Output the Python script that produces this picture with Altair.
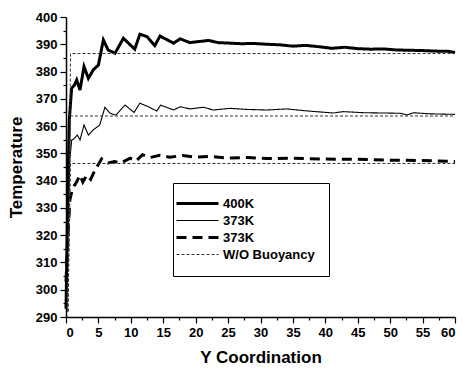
import altair as alt
import pandas as pd

# --- data ---
x400 = [0, 0.25, 0.5, 0.87, 1.3, 1.65, 2.16, 2.78, 3.45, 4.2, 5.0, 5.76, 6.5, 7.56, 8.85,
        10.6, 11.4, 12.5, 13.7, 14.5, 16.6, 17.6, 19.1, 20.5, 22, 23.5, 25.5, 27, 29, 31,
        33, 35, 37, 39, 41, 43, 45, 47, 49, 51, 53, 55, 57, 59, 60]
t400 = [293, 330, 362, 373.9, 375, 376.9, 373.2, 381.8, 377.5, 380.6, 382.4, 391.6, 387.9,
        386.7, 392.2, 388.2, 393.7, 392.8, 389.5, 393, 390.4, 392, 390.6, 391, 391.4, 390.6,
        390.4, 390.2, 390.3, 390, 389.8, 389.3, 389.6, 389.1, 388.5, 388.9, 388.4, 388.2,
        388.3, 387.9, 387.8, 387.7, 387.5, 387.4, 387]

x373 = [0, 0.3, 0.6, 0.88, 1.2, 1.75, 2.16, 2.78, 3.45, 4.2, 5.2, 6.0, 6.8, 7.7, 9.1, 10.5,
        11.4, 12.7, 14.0, 14.6, 16.6, 17.6, 19.1, 21.2, 22.7, 25.3, 28, 31, 34.1, 37, 41.2,
        42.8, 46, 49, 51.5, 52.6, 53.6, 56, 58, 60]
t373 = [300, 325, 348, 354.9, 355.3, 356.7, 354.9, 360.4, 356.7, 358.6, 360.4, 366.9, 364.7,
        364, 367.7, 365, 368.4, 367.1, 365.5, 367.7, 365.9, 367.1, 366.3, 366.9, 365.9, 366.5,
        366.1, 365.9, 366.3, 365.6, 364.8, 365.3, 364.9, 364.8, 364.7, 364.1, 364.9, 364.5,
        364.4, 364.3]

xdash = [0, 0.3, 0.6, 1.0, 1.65, 2.16, 2.6, 3.2, 3.8, 4.5, 5.5, 6.5, 7.5, 8.5, 9.9, 10.8,
         11.8, 13, 14.5, 16, 18, 20, 22, 25, 28, 31, 35, 40, 45, 50, 55, 60]
tdash = [303, 320, 333, 337, 339.6, 342, 339.5, 342, 340.5, 344, 348, 346.5, 347, 346.5,
         348.2, 347.2, 349.5, 348.5, 349.3, 348.6, 349.2, 348.6, 348.9, 348.3, 348.5, 348.1,
         348.2, 347.9, 347.8, 347.5, 347.4, 347]

xwo = [0.3, 0.7, 60]
two_400 = [292, 386.6, 386.6]
two_373 = [292, 363.7, 363.7]
two_dash = [292, 346.3, 346.3]

series_names = ["400K", "373K", "373K ", "W/O Buoyancy"]

rows = []
def add(xs, ts, series, line):
    for x, t in zip(xs, ts):
        rows.append({"x": x, "t": t, "series": series, "line": line})

add(x400, t400, series_names[0], "a")
add(x373, t373, series_names[1], "b")
add(xdash, tdash, series_names[2], "c")
add(xwo, two_400, series_names[3], "d1")
add(xwo, two_373, series_names[3], "d2")
add(xwo, two_dash, series_names[3], "d3")
df = pd.DataFrame(rows)

FONT = "Liberation Sans"

leg = alt.Legend(
    title=None, orient="none", legendX=107, legendY=166,
    symbolType="M-3.4,0H5.0", symbolSize=100, strokeColor="black", fillColor="white",
    padding=14, labelFont=FONT, labelFontSize=13, labelFontWeight="bold",
    labelColor="black", labelOffset=23, rowPadding=3, labelLimit=200,
)

chart = alt.Chart(df).mark_line().encode(
    x=alt.X("x:Q", scale=alt.Scale(domain=[0, 60], nice=False),
            title="Y Coordination",
            axis=alt.Axis(values=[i * 2.5 for i in range(25)],
                          labelExpr="datum.value % 5 == 0 ? datum.label : ''",
                          tickSize={"condition": {"test": "datum.value % 5 != 0", "value": 3}, "value": 6},
                          labelOverlap=False)),
    y=alt.Y("t:Q", scale=alt.Scale(domain=[290, 400], nice=False),
            title="Temperature",
            axis=alt.Axis(values=[290 + i * 5 for i in range(23)],
                          labelExpr="datum.value % 10 == 0 ? datum.label : ''",
                          tickSize={"condition": {"test": "datum.value % 10 != 0", "value": 3}, "value": 6},
                          labelOverlap=False)),
    color=alt.Color("series:N", scale=alt.Scale(domain=series_names,
                    range=["black", "black", "black", "#333333"]), legend=leg),
    strokeDash=alt.StrokeDash("series:N", scale=alt.Scale(domain=series_names,
                    range=[[1, 0], [1, 0], [10, 6], [3, 2]]), legend=leg),
    strokeWidth=alt.StrokeWidth("series:N", scale=alt.Scale(type="ordinal", domain=series_names,
                    range=[3.0, 1.1, 3.0, 1.0]), legend=leg),
    detail="line:N",
).properties(
    width=389, height=300,
    autosize=alt.AutoSizeParams(type="none"),
    padding={"left": 66, "top": 17, "right": 10, "bottom": 53},
).configure_view(
    stroke=None
).configure_axis(
    grid=False, domainColor="black", domainWidth=1.5, tickColor="black", tickWidth=1.2,
    labelFont=FONT, labelFontSize=13, labelFontWeight="bold", labelColor="black",
    labelPadding=3, titleFont=FONT, titleFontSize=17, titleFontWeight="bold",
    titleColor="black",
).configure_axisY(titlePadding=10).configure_axisX(titlePadding=10)

chart.save("out.html", embed_options={"renderer": "svg", "actions": False})
